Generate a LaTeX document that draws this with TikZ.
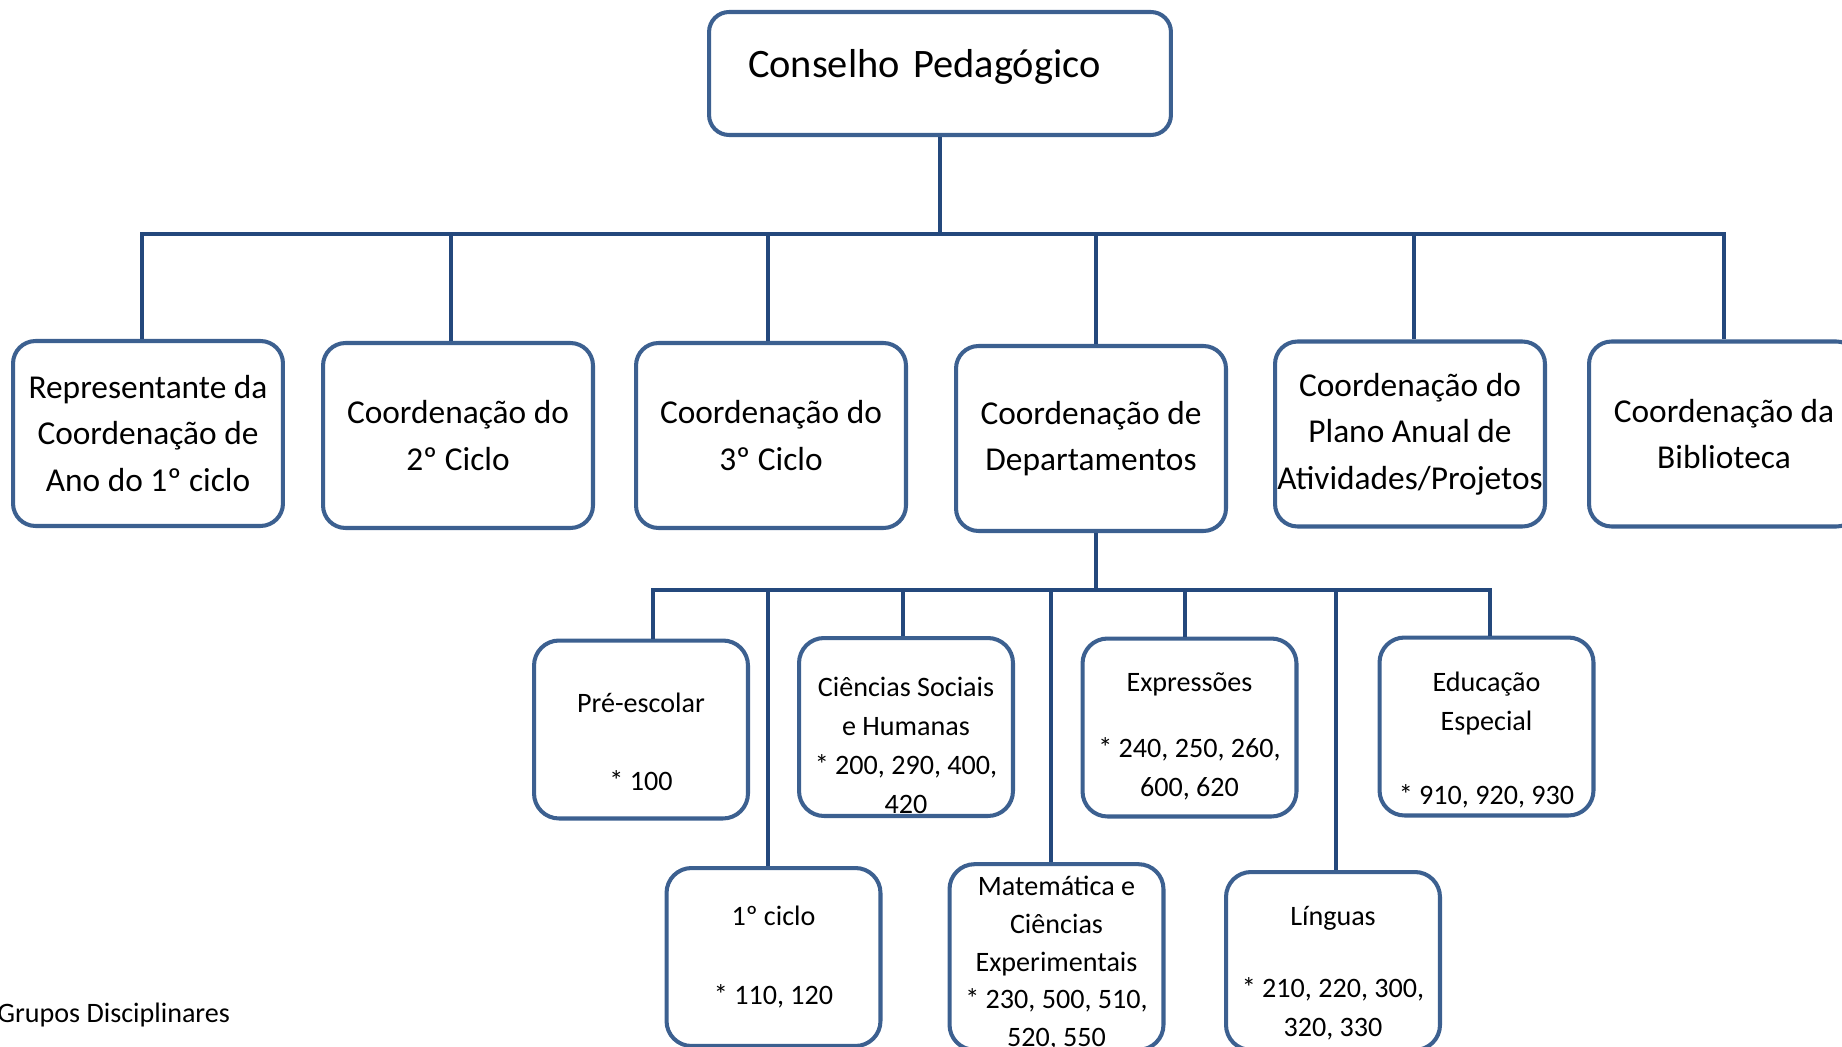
\documentclass[tikz,border=0pt]{standalone}
\usepackage{fontspec}
\setmainfont{Carlito}
\usepackage{tikz}
\usetikzlibrary{shapes,arrows,positioning}
\definecolor{linkblue}{RGB}{36,72,124}
\definecolor{boxblue}{RGB}{60,96,144}
\newcommand{\pushdown}[1]{\rule{0pt}{#1}}
\tikzstyle{bigbox} = [draw=boxblue, line width=2.3pt, rounded corners=0.4cm, fill=white, minimum width=9.24cm, minimum height=2.46cm]
\tikzstyle{cbox} = [draw=boxblue, line width=2.3pt, rounded corners=0.45cm, fill=white, align=center, minimum width=5.4cm, minimum height=3.7cm, inner sep=0pt, font=\fontsize{19}{26.4}\selectfont]
\tikzstyle{gbox} = [draw=boxblue, line width=2.3pt, rounded corners=0.5cm, fill=white, align=center, minimum width=4.28cm, minimum height=3.56cm, inner sep=0pt, font=\fontsize{16}{22.2}\selectfont]
\tikzstyle{line} = [draw=linkblue, line width=2.3pt]
\tikzstyle{bar} = [draw=linkblue, line width=2.8pt, line cap=rect]

\begin{document}
\begin{tikzpicture}[x=0.02cm, y=-0.02cm]
			\useasboundingbox (0,0) rectangle (1842,1047);

			\node [bigbox, align=left, text width=7.68cm, inner xsep=0.78cm, font=\fontsize{23}{28}\selectfont, text height=16pt, text depth=11pt] (conselho) at (940,73.5) {Conselho Pedagógico};

			\node [cbox] (rep) at (148,433.5) {Representante da\\Coordenação de\\Ano do 1º ciclo};
			\node [cbox] (ciclo2) at (458,435.5) {Coordenação do\\2º Ciclo};
			\node [cbox] (ciclo3) at (771,435.5) {Coordenação do\\3º Ciclo};
			\node [cbox] (dep) at (1091,438.5) {Coordenação de\\Departamentos};
			\node [cbox] (paa) at (1410,434) {Coordenação do\\Plano Anual de\\Atividades/Projetos};
			\node [cbox] (bib) at (1724,434) {Coordenação da\\Biblioteca};

			\node [gbox] (pre) at (641,729.5) {\pushdown{25pt}Pré-escolar\\[22pt]* 100};
			\node [gbox] (csh) at (906,727) {\pushdown{31.5pt}Ciências Sociais\\e Humanas\\* 200, 290, 400,\\420};
			\node [gbox] (expr) at (1189.5,727.5) {\pushdown{21pt}Expressões\\[15pt]* 240, 250, 260,\\600, 620};
			\node [gbox] (ee) at (1486.5,726.5) {\pushdown{26.5pt}Educação\\Especial\\[20pt]* 910, 920, 930};
			\node [gbox] (ciclo1) at (773.5,957) {1º ciclo\\[23pt]* 110, 120};
			\node [gbox, font=\fontsize{16}{21.4}\selectfont] (mat) at (1056.5,957) {\pushdown{18pt}Matemática e\\Ciências\\Experimentais\\* 230, 500, 510,\\520, 550};
			\node [gbox] (ling) at (1333,961) {\pushdown{25pt}Línguas\\[19pt]* 210, 220, 300,\\320, 330};

			\node [anchor=west, inner sep=0pt, font=\fontsize{16}{20}\selectfont] (grupos) at (-3,1015) {Grupos Disciplinares};

			\coordinate (top) at (940,234);
			\coordinate (d1) at (142,234);
			\coordinate (d2) at (451,234);
			\coordinate (d3) at (768,234);
			\coordinate (d4) at (1096,234);
			\coordinate (d5) at (1414,234);
			\coordinate (d6) at (1724,234);
			\coordinate (mid) at (1096,590);
			\coordinate (e1) at (653,590);
			\coordinate (e2) at (768,590);
			\coordinate (e3) at (903,590);
			\coordinate (e4) at (1051,590);
			\coordinate (e5) at (1185,590);
			\coordinate (e6) at (1336,590);
			\coordinate (e7) at (1490,590);

			\path [line] (conselho) -- (top);
			\path [bar] (d1) -- (d6);
			\path [line] (d1) -- (d1 |- rep.north);
			\path [line] (d2) -- (d2 |- ciclo2.north);
			\path [line] (d3) -- (d3 |- ciclo3.north);
			\path [line] (d4) -- (d4 |- dep.north);
			\path [line] (d5) -- (d5 |- paa.north);
			\path [line] (d6) -- (d6 |- bib.north);

			\path [line] (mid |- dep.south) -- (mid);
			\path [bar] (e1) -- (e7);
			\path [line] (e1) -- (e1 |- pre.north);
			\path [line] (e2) -- (e2 |- ciclo1.north);
			\path [line] (e3) -- (e3 |- csh.north);
			\path [line] (e4) -- (e4 |- mat.north);
			\path [line] (e5) -- (e5 |- expr.north);
			\path [line] (e6) -- (e6 |- ling.north);
			\path [line] (e7) -- (e7 |- ee.north);
		\end{tikzpicture}
\end{document}
